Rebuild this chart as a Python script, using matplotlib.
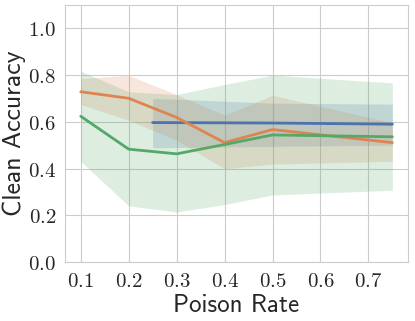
import matplotlib
matplotlib.use('Agg')
import matplotlib.pyplot as plt
import seaborn as sns
from matplotlib.ticker import FuncFormatter

# data
blue_x = [0.25, 0.5, 0.75]
blue_mean = [0.597, 0.595, 0.590]
blue_low = [0.489, 0.495, 0.500]
blue_high = [0.701, 0.680, 0.676]

rate = [0.1, 0.2, 0.3, 0.4, 0.5, 0.75]
orange_mean = [0.729, 0.701, 0.619, 0.511, 0.567, 0.511]
orange_low = [0.674, 0.607, 0.521, 0.399, 0.419, 0.431]
orange_high = [0.786, 0.799, 0.717, 0.629, 0.714, 0.596]
green_mean = [0.624, 0.483, 0.463, 0.503, 0.544, 0.536]
green_low = [0.431, 0.240, 0.214, 0.246, 0.287, 0.307]
green_high = [0.817, 0.729, 0.717, 0.760, 0.800, 0.767]

sns.set_style('whitegrid')
plt.rcParams['mathtext.fontset'] = 'cm'
colors = sns.color_palette('deep')

fig = plt.figure(figsize=(4.15, 3.21), dpi=100)
ax = fig.add_axes([0.157, 0.184, 0.826, 0.800])

ax.plot(blue_x, blue_mean, color=colors[0], lw=2)
ax.fill_between(blue_x, blue_low, blue_high, color=colors[0], alpha=0.2, lw=0)
ax.plot(rate, orange_mean, color=colors[1], lw=2)
ax.fill_between(rate, orange_low, orange_high, color=colors[1], alpha=0.2, lw=0)
ax.plot(rate, green_mean, color=colors[2], lw=2)
ax.fill_between(rate, green_low, green_high, color=colors[2], alpha=0.2, lw=0)

ax.set_ylim(0, 1.1)
ax.set_xticks([0.1, 0.2, 0.3, 0.4, 0.5, 0.6, 0.7])
ax.set_yticks([0.0, 0.2, 0.4, 0.6, 0.8, 1.0])
fmt = FuncFormatter(lambda v, p: '$%.1f$' % v)
ax.xaxis.set_major_formatter(fmt)
ax.yaxis.set_major_formatter(fmt)
ax.tick_params(labelsize=15, colors='#262626', pad=3)
ax.set_xlabel('Poison Rate', fontname='cmss10', fontsize=18, color='#262626', labelpad=2)
ax.set_ylabel('Clean Accuracy', fontname='cmss10', fontsize=18.5, color='#262626', labelpad=1)
ax.yaxis.set_label_coords(-0.115, 0.5)
for s in ax.spines.values():
    s.set_color('#cccccc')

fig.savefig('out.png', dpi=100)
